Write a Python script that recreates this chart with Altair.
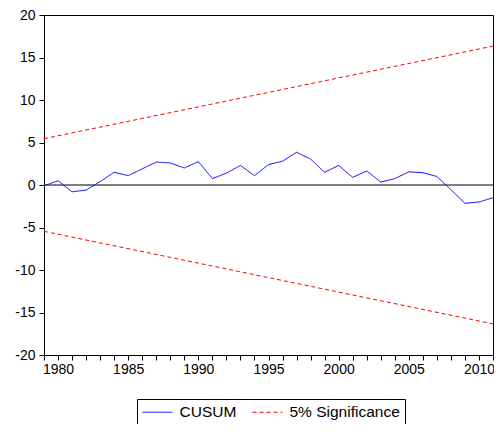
import altair as alt
import pandas as pd

years = list(range(1979, 2012))
cusum = [-0.1, 0.5, -0.8, -0.6, 0.4, 1.5, 1.1, 1.9, 2.7, 2.6, 2.0, 2.75,
         0.75, 1.4, 2.3, 1.1, 2.4, 2.8, 3.85, 3.05, 1.5, 2.3, 0.9, 1.65,
         0.35, 0.75, 1.55, 1.45, 1.0, -0.55, -2.15, -2.0, -1.5]
sig_years = [1979, 2011]
sig_upper = [5.45, 16.34]
sig_lower = [-5.45, -16.34]
y_ticks = [-20, -15, -10, -5, 0, 5, 10, 15, 20]

rows = []
for yr, v in zip(years, cusum):
    rows.append({"year": yr, "value": v, "series": "CUSUM", "grp": "c"})
for yr, v in zip(sig_years, sig_upper):
    rows.append({"year": yr, "value": v, "series": "5% Significance", "grp": "u"})
for yr, v in zip(sig_years, sig_lower):
    rows.append({"year": yr, "value": v, "series": "5% Significance", "grp": "l"})
df = pd.DataFrame(rows)

FONT = "Liberation Sans"
series_dom = ["CUSUM", "5% Significance"]

x = alt.X("year:Q", scale=alt.Scale(domain=[1979, 2011], nice=False, zero=False),
          axis=alt.Axis(values=years, labelExpr="datum.value % 5 == 0 ? '' + datum.value : ''",
                        title=None, grid=False, tickSize=5, labelFontSize=14,
                        labelFont=FONT, labelColor="black", domainColor="black",
                        tickColor="black", labelPadding=2, labelFlush=False))
y = alt.Y("value:Q", scale=alt.Scale(domain=[-20, 20], nice=False),
          axis=alt.Axis(values=y_ticks, labelExpr="'' + datum.value", title=None, grid=False,
                        tickSize=5, labelFontSize=14, labelFont=FONT, labelColor="black",
                        domainColor="black", tickColor="black", labelPadding=4))

leg = dict(title=None, orient="none", legendX=93, legendY=384,
           direction="horizontal", strokeColor="black",
           padding=5, symbolType="M-2,0H2", symbolSize=225, symbolOffset=7.5,
           symbolStrokeWidth=1, labelFontSize=15.5, labelFont=FONT,
           labelColor="black", columnPadding=13, labelOffset=14)

lines = alt.Chart(df).mark_line(strokeWidth=1).encode(
    x=x, y=y,
    detail="grp:N",
    color=alt.Color("series:N", scale=alt.Scale(domain=series_dom, range=["#0000FF", "#FF0000"]),
                    legend=alt.Legend(**leg)),
    strokeDash=alt.StrokeDash("series:N", scale=alt.Scale(domain=series_dom, range=[[1, 0], [4, 3]]),
                              legend=alt.Legend(**leg)),
)

zero = alt.Chart(pd.DataFrame({"v": [0]})).mark_rule(color="black", strokeWidth=1).encode(y="v:Q")

chart = alt.layer(zero, lines).properties(
    width=449, height=340,
    autosize=alt.AutoSizeParams(type="none"),
    padding={"left": 36, "top": 7, "right": 1, "bottom": 69},
).configure_view(stroke="black", strokeWidth=1)

chart.save("out.html", embed_options={"renderer": "svg", "actions": False})
